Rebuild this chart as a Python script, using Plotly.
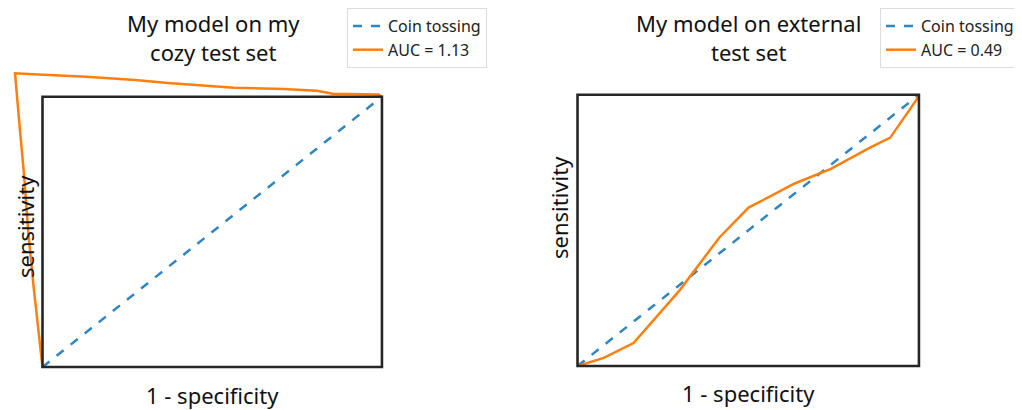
import plotly.graph_objects as go

# ---------------- data ----------------
coin_x = [0.0, 1.0]
coin_y = [0.0, 1.0]

cozy_fpr = [0.0, -0.007, -0.026, -0.042, -0.055, -0.068, -0.076, -0.081, 0.003, 0.129, 0.273,
            0.37, 0.564, 0.71, 0.808, 0.855, 0.99, 1.0]
cozy_tpr = [0.0, 0.076, 0.295, 0.50, 0.72, 0.90, 1.03, 1.087, 1.081, 1.074, 1.062,
            1.051, 1.033, 1.029, 1.022, 1.011, 1.008, 1.0]

ext_fpr = [0.0, 0.077, 0.164, 0.222, 0.299, 0.357, 0.415, 0.501, 0.569, 0.636, 0.742,
           0.858, 0.916, 0.993, 1.0]
ext_tpr = [0.0, 0.03, 0.085, 0.17, 0.279, 0.376, 0.473, 0.584, 0.63, 0.673, 0.727,
           0.806, 0.842, 0.982, 1.0]

titles = ["My model on my<br>cozy test set", "My model on external<br>test set"]
auc_labels = ["AUC = 1.13", "AUC = 0.49"]
xlabel = "1 - specificity"
ylabel = "sensitivity"

# ---------------- layout helpers ----------------
OFF = 8                      # page body margin of the html page
W, H = 1022 - OFF, 410 - OFF
FONT = "Noto Sans"
BLUE = "#2f86c0"
ORANGE = "#ff7f0e"
XR = [-0.1, 1.03]
YR = [-0.03, 1.12]

# frame boxes in screen pixels (left, right, top, bottom)
frames = [(39, 383, 93, 368), (574, 920, 91, 367)]


def px(sx):
    return (sx - OFF) / W


def py(sy):
    return 1 - (sy - OFF) / H


def domains(fr):
    l, r, t, b = fr
    sx = (r - l) / (XR[1] - XR[0])
    sy = (b - t) / (YR[1] - YR[0])
    x0 = l + XR[0] * sx
    x1 = r + (XR[1] - 1) * sx
    ytop = t - (YR[1] - 1) * sy
    ybot = b - YR[0] * sy
    return [px(x0), px(x1)], [py(ybot), py(ytop)]


fig = go.Figure()

series = [(cozy_fpr, cozy_tpr), (ext_fpr, ext_tpr)]
for i in range(2):
    xa = "x" if i == 0 else "x2"
    ya = "y" if i == 0 else "y2"
    leg = "legend" if i == 0 else "legend2"
    fig.add_trace(go.Scatter(x=coin_x, y=coin_y, mode="lines", name="Coin tossing",
                             line=dict(color=BLUE, width=2.5, dash="dash"),
                             xaxis=xa, yaxis=ya, legend=leg))
    fig.add_trace(go.Scatter(x=series[i][0], y=series[i][1], mode="lines", name=auc_labels[i],
                             line=dict(color=ORANGE, width=2.5),
                             xaxis=xa, yaxis=ya, legend=leg))
    fig.add_shape(type="rect", xref=xa, yref=ya, x0=0, y0=0, x1=1, y1=1,
                  line=dict(color="#262626", width=2.6), layer="above")

d1x, d1y = domains(frames[0])
d2x, d2y = domains(frames[1])
axis_common = dict(showgrid=False, zeroline=False, showticklabels=False, ticks="",
                   showline=False, fixedrange=True)
fig.update_layout(
    width=W, height=H,
    margin=dict(l=0, r=0, t=0, b=0, autoexpand=False),
    paper_bgcolor="white", plot_bgcolor="white",
    font=dict(family=FONT, color="#111111"),
    xaxis=dict(domain=d1x, range=XR, **axis_common),
    yaxis=dict(domain=d1y, range=YR, **axis_common),
    xaxis2=dict(domain=d2x, range=XR, anchor="y2", **axis_common),
    yaxis2=dict(domain=d2y, range=YR, anchor="x2", **axis_common),
    legend=dict(x=px(347), y=min(1.0, py(8)), xanchor="left", yanchor="top",
                bordercolor="#dcdcdc", borderwidth=1, bgcolor="white",
                font=dict(size=16, family=FONT, color="#222222")),
    legend2=dict(x=px(880), y=min(1.0, py(5)), xanchor="left", yanchor="top",
                 bordercolor="#dcdcdc", borderwidth=1, bgcolor="white",
                 font=dict(size=16, family=FONT, color="#222222")),
    showlegend=True,
)

ann = []
title_pos = [(213, 38), (748, 38)]
xl_pos = [(212, 395), (748, 393)]
yl_pos = [(25, 227), (559, 208)]
for i in range(2):
    ann.append(dict(text=titles[i], x=px(title_pos[i][0]), y=py(title_pos[i][1]),
                    xref="paper", yref="paper", showarrow=False, xanchor="center",
                    yanchor="middle", font=dict(size=22, family=FONT, color="#111111")))
    ann.append(dict(text=xlabel, x=px(xl_pos[i][0]), y=py(xl_pos[i][1]),
                    xref="paper", yref="paper", showarrow=False, xanchor="center",
                    yanchor="middle", font=dict(size=22, family=FONT, color="#111111")))
    ann.append(dict(text=ylabel, x=px(yl_pos[i][0]), y=py(yl_pos[i][1]),
                    xref="paper", yref="paper", showarrow=False, xanchor="center",
                    yanchor="middle", textangle=-90,
                    font=dict(size=22, family=FONT, color="#111111")))
fig.update_layout(annotations=ann)

fig.write_html("out.html")
